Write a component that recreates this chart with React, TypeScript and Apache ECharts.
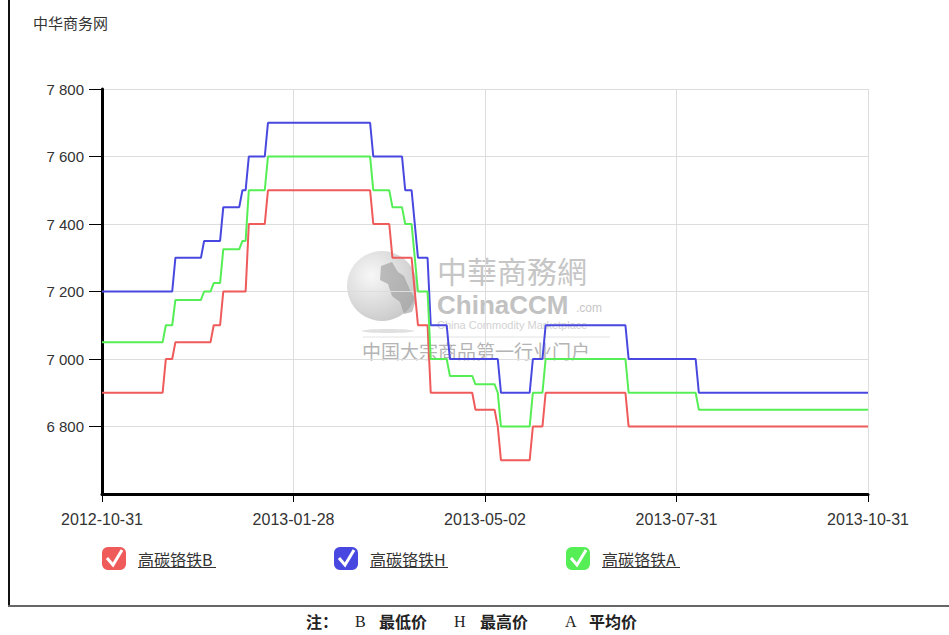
import React, { useEffect, useRef } from "react";
import * as echarts from "echarts";

// x positions are trading-day indices; ticks every 60 days carry these dates
const xTickLabels = ["2012-10-31", "2013-01-28", "2013-05-02", "2013-07-31", "2013-10-31"];
const xTickIndex = [0, 60, 120, 180, 240];

// price segments: [segStart .. segEnd] share one value
const segStart = [0, 20, 23, 32, 35, 38, 44, 46, 52, 85, 91, 95, 99, 103, 109, 117, 124, 125, 135, 139, 165, 187];
const segEnd = [19, 22, 31, 34, 37, 43, 45, 51, 84, 90, 94, 97, 102, 108, 116, 123, 124, 134, 138, 164, 186, 240];
const lowB = [6900, 7000, 7050, 7050, 7100, 7200, 7200, 7400, 7500, 7400, 7300, 7300, 7100, 6900, 6900, 6850, 6800, 6700, 6800, 6900, 6800, 6800];
const highH = [7200, 7200, 7300, 7350, 7350, 7450, 7500, 7600, 7700, 7600, 7600, 7500, 7300, 7100, 7000, 7000, 7000, 6900, 7000, 7100, 7000, 6900];
const avgA = [7050, 7100, 7175, 7200, 7225, 7325, 7350, 7500, 7600, 7500, 7450, 7400, 7200, 7000, 6950, 6925, 6900, 6800, 6900, 7000, 6900, 6850];

const seriesNames = ["高碳铬铁B", "高碳铬铁H", "高碳铬铁A"];
const seriesColors = ["#ef5a5a", "#4848e0", "#55ee55"];
const yTicks = [6800, 7000, 7200, 7400, 7600, 7800];

function buildData(vals: number[]) {
  const out: number[][] = [];
  for (let i = 0; i < vals.length; i++) {
    out.push([segStart[i], vals[i]]);
    if (segEnd[i] !== segStart[i]) out.push([segEnd[i], vals[i]]);
  }
  return out;
}

export default function App() {
  const ref = useRef<HTMLDivElement>(null);
  useEffect(() => {
    if (!ref.current) return;
    const chart = echarts.init(ref.current, null, { renderer: "svg" });
    const values = [lowB, highH, avgA];
    const legendX = [102, 334, 566];
    const checkGraphics: any[] = [];
    legendX.forEach((lx) => {
      checkGraphics.push({
        type: "polyline",
        z: 100,
        shape: { points: [[lx + 5, 558], [lx + 11, 565], [lx + 20, 550]] },
        style: { stroke: "#ffffff", lineWidth: 3, fill: null },
      });
      checkGraphics.push({
        type: "line",
        z: 100,
        shape: { x1: lx + 36, y1: 567.5, x2: lx + 114, y2: 567.5 },
        style: { stroke: "#333", lineWidth: 1 },
      });
    });
    const footerFont = '"Noto Sans CJK SC", sans-serif';
    const footer = [
      { t: "注：", x: 306, f: footerFont, w: "bold" },
      { t: "B", x: 355, f: '"Liberation Serif", serif', w: "normal" },
      { t: "最低价", x: 379, f: footerFont, w: "bold" },
      { t: "H", x: 454, f: '"Liberation Serif", serif', w: "normal" },
      { t: "最高价", x: 480, f: footerFont, w: "bold" },
      { t: "A", x: 565, f: '"Liberation Serif", serif', w: "normal" },
      { t: "平均价", x: 589, f: footerFont, w: "bold" },
    ].map((d) => ({
      type: "text",
      x: d.x,
      y: 621,
      style: {
        text: d.t,
        font: `${d.w} 16px ${d.f}`,
        fill: "#222",
        verticalAlign: "middle",
      },
    }));

    const watermark = {
      type: "group",
      z: 1,
      silent: true,
      children: [
        {
          type: "circle",
          shape: { cx: 382, cy: 286, r: 35 },
          style: {
            fill: {
              type: "radial",
              x: 0.35,
              y: 0.35,
              r: 0.75,
              colorStops: [
                { offset: 0, color: "#f6f6f6" },
                { offset: 1, color: "#bdbdbd" },
              ],
            },
            opacity: 0.85,
          },
        },
        {
          type: "polygon",
          shape: {
            points: [
              [381, 266], [392, 262], [398, 272], [404, 276], [410, 290], [416, 300],
              [412, 312], [404, 314], [400, 302], [392, 296], [388, 284], [380, 280],
            ],
          },
          style: { fill: "#9a9a9a", opacity: 0.6 },
        },
        {
          type: "ellipse",
          shape: { cx: 388, cy: 331, rx: 26, ry: 2 },
          style: { fill: "#d8d8d8", opacity: 0.8 },
        },
        {
          type: "text",
          x: 437,
          y: 254,
          style: { text: "中華商務網", font: '30px "Noto Sans CJK TC", sans-serif', fill: "#c6c6c6", lineHeight: 32 },
        },
        {
          type: "text",
          x: 437,
          y: 292,
          style: { text: "ChinaCCM", font: 'bold 26px "Liberation Sans", sans-serif', fill: "#c2c2c2", lineHeight: 26 },
        },
        {
          type: "text",
          x: 576,
          y: 302,
          style: { text: ".com", font: '12px "Liberation Sans", sans-serif', fill: "#c6c6c6" },
        },
        {
          type: "text",
          x: 437,
          y: 319,
          style: { text: "China Commodity Marketplace", font: '11px "Liberation Sans", sans-serif', fill: "#d2d2d2" },
        },
        {
          type: "line",
          shape: { x1: 363, y1: 337, x2: 610, y2: 337 },
          style: { stroke: "#e2e2e2", lineWidth: 1 },
        },
        {
          type: "text",
          x: 362,
          y: 341,
          style: { text: "中国大宗商品第一行业门户", font: '19px "Noto Sans CJK SC", sans-serif', fill: "#b4b4b4" },
        },
      ],
    };

    chart.setOption({
      animation: false,
      backgroundColor: "#ffffff",
      title: {
        text: "中华商务网",
        left: 28,
        top: 10,
        textStyle: { fontSize: 15, fontWeight: "normal", color: "#333", fontFamily: '"Noto Sans CJK SC", sans-serif' },
      },
      grid: { left: 102, right: 81, top: 89, bottom: 141, containLabel: false },
      legend: seriesNames.map((n, i) => ({
        data: [n],
        left: legendX[i],
        top: 547,
        padding: 0,
        icon: "roundRect",
        itemWidth: 24,
        itemHeight: 23,
        selectedMode: false,
        textStyle: {
          fontSize: 16,
          color: "#333",
          fontFamily: '"Noto Sans CJK SC", sans-serif',
          padding: [0, 0, 0, 7],
        },
      })),
      xAxis: {
        type: "value",
        min: 0,
        max: 240,
        interval: 60,
        axisLine: { show: true, onZero: false, lineStyle: { color: "#000", width: 3 } },
        axisTick: { show: true, length: 8, lineStyle: { color: "#000", width: 1 } },
        axisLabel: {
          margin: 17,
          fontSize: 16,
          color: "#333",
          fontFamily: '"Liberation Sans", Arial, sans-serif',
          formatter: (v: number) => {
            const k = xTickIndex.indexOf(v);
            return k >= 0 ? xTickLabels[k] : "";
          },
        },
        splitLine: { show: true, lineStyle: { color: "#dddddd", width: 1 } },
      },
      yAxis: {
        type: "value",
        min: 6600,
        max: 7800,
        interval: 200,
        axisLine: { show: true, onZero: false, lineStyle: { color: "#000", width: 3 } },
        axisTick: { show: true, length: 13, customValues: yTicks, lineStyle: { color: "#000", width: 1 } },
        axisLabel: {
          margin: 18,
          fontSize: 15,
          color: "#333",
          customValues: yTicks,
          fontFamily: '"Liberation Sans", Arial, sans-serif',
          formatter: (v: number) => `${Math.floor(v / 1000)} ${String(v % 1000).padStart(3, "0")}`,
        },
        splitLine: { show: true, lineStyle: { color: "#dddddd", width: 1 } },
      },
      series: values.map((vals, i) => ({
        name: seriesNames[i],
        type: "line",
        data: buildData(vals),
        showSymbol: false,
        symbol: "none",
        color: seriesColors[i],
        lineStyle: { width: 2, color: seriesColors[i] },
        z: 3,
      })),
      graphic: [
        watermark,
        ...checkGraphics,
        {
          type: "line",
          shape: { x1: 9, y1: 0, x2: 9, y2: 606 },
          style: { stroke: "#111", lineWidth: 2 },
        },
        {
          type: "line",
          shape: { x1: 8, y1: 606, x2: 949, y2: 606 },
          style: { stroke: "#666", lineWidth: 2 },
        },
        ...footer,
      ],
    });
    return () => chart.dispose();
  }, []);
  return (
    <div
      ref={ref}
      style={{ position: "fixed", left: 0, top: 0, width: 949, height: 635, background: "#fff" }}
    />
  );
}
